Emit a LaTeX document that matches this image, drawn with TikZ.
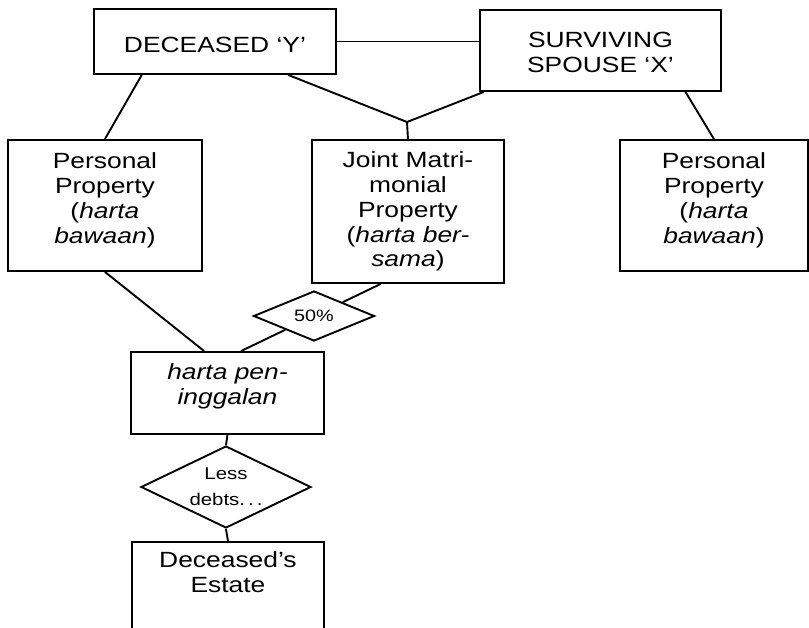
\documentclass[tikz,border=0pt]{standalone}
\usepackage{fontspec}
\setmainfont{Liberation Sans}[FakeStretch=1.2]
\usetikzlibrary{shapes.geometric,calc}

% box text: width, height, first-baseline offset, lines
\newcommand\cellbox[4]{\parbox[c][#2][t]{#1}{\centering\fontsize{22}{24.7}\selectfont\rule{0pt}{#3}#4\par}}

\begin{document}
\begin{tikzpicture}[x=1pt,y=-1pt,
  box/.style={draw,line width=1.9pt,inner sep=0pt,anchor=north west},
  link/.style={line width=1.9pt},
  dmd/.style={draw,diamond,line width=1.9pt,fill=white,inner sep=0pt}]
\useasboundingbox (0,0) rectangle (809,627);
\clip (0,0) rectangle (809,627);

% persons
\node[box] (dec) at (93,8) {\cellbox{242pt}{65pt}{44pt}{DECEASED ‘Y’}};
\node[box] (sp) at (479,9) {\cellbox{241pt}{81pt}{38pt}{SURVIVING\\SPOUSE ‘X’}};

% property
\node[box] (pp1) at (7,139) {\cellbox{194pt}{131pt}{29pt}{Personal\\Property\\(\textit{harta}\\\textit{bawaan})}};
\node[box] (jmp) at (311,139) {\cellbox{192pt}{143pt}{28pt}{Joint Matri-\\monial\\Property\\(\textit{harta ber-}\\\textit{sama})}};
\node[box] (pp2) at (619,139) {\cellbox{188pt}{131pt}{29pt}{Personal\\Property\\(\textit{harta}\\\textit{bawaan})}};

% estate
\node[box] (hp) at (130,351) {\cellbox{193pt}{82pt}{28pt}{\itshape harta pen-\\inggalan}};
\node[box] (est) at (131,541) {\cellbox{192pt}{120pt}{26pt}{Deceased’s\\Estate}};

% deductions
\node[dmd,minimum width=121pt,minimum height=50pt,aspect=2.42,
      font=\fontsize{16.5}{18}\selectfont] (half) at (314,316) {50\%};
\node[dmd,minimum width=170pt,minimum height=82pt,aspect=2.07,align=center,
      font=\fontsize{17}{26}\selectfont] (less) at (226,487) {Less\\debts.\hspace{3pt}.\hspace{3pt}.};

% connectors
\coordinate (jn) at (407,122);
\draw[link] (dec.east) -- (dec.east -| sp.west);
\draw[link] ($(dec.south west)!0.2!(dec.south east)$) -- (pp1.north);
\draw[link] ($(dec.south west)!0.8!(dec.south east)$) -- (jn);
\draw[link] ($(sp.south west)!0.02!(sp.south east)$) -- (jn);
\draw[link] (jn) -- (jmp.north);
\draw[link] ($(sp.south west)!0.85!(sp.south east)$) -- (pp2.north);
\draw[link] (pp1.south) -- ($(hp.north west)!0.38!(hp.north east)$);
\draw[link] ($(jmp.south west)!0.36!(jmp.south east)$) -- (half);
\draw[link] (half) -- ($(hp.north west)!0.57!(hp.north east)$);
\draw[link] (hp.south) -- (less.north);
\draw[link] (less.south) -- (est.north);
\end{tikzpicture}
\end{document}
